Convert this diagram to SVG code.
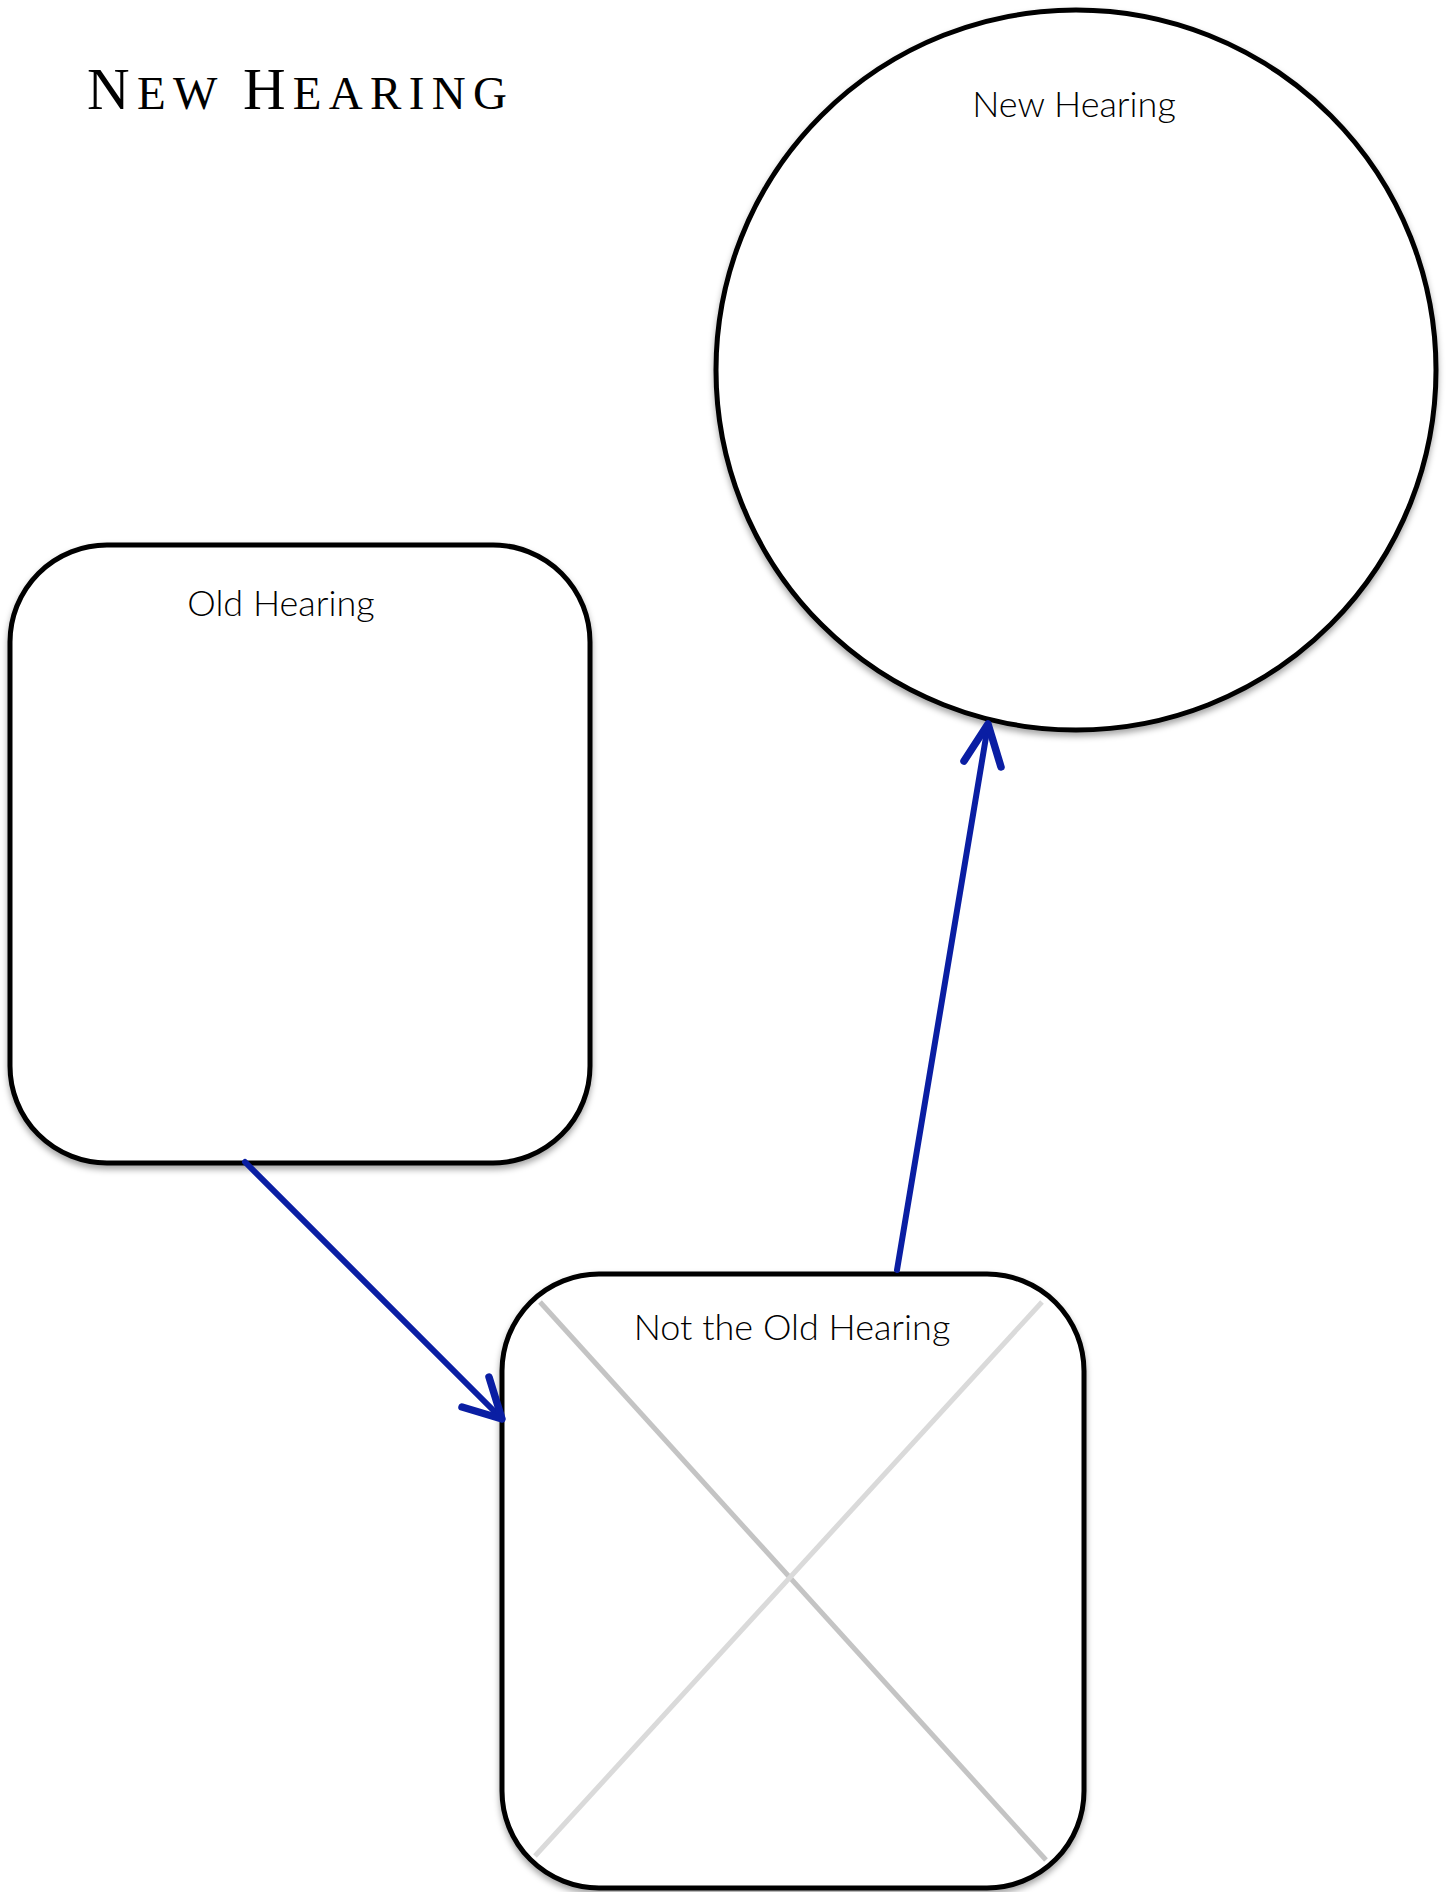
<svg xmlns="http://www.w3.org/2000/svg" width="1449" height="1892" viewBox="0 0 1449 1892">
<style>
.shape{fill:#fff;stroke:#000;stroke-width:5;filter:url(#sh)}
.lbl{font-family:Lato,"Open Sans","Liberation Sans",sans-serif;font-weight:300;font-size:36px;fill:#000;text-anchor:middle}
.conn{stroke:#0a1ea3;stroke-width:6;fill:none;stroke-linecap:round;stroke-linejoin:round}
.head{stroke-width:7.5}
.ttl{font-family:"Liberation Serif","DejaVu Serif",serif;fill:#000}
</style>
<defs>
<filter id="sh" x="-10%" y="-10%" width="120%" height="120%">
<feDropShadow dx="0" dy="4" stdDeviation="3" flood-color="#000" flood-opacity="0.35"/>
</filter>
</defs>
<rect width="1449" height="1892" fill="#fff"/>
<g id="title">
<text class="ttl" x="87" y="109" textLength="420" lengthAdjust="spacing"><tspan font-size="59">N</tspan><tspan font-size="47">EW </tspan><tspan font-size="59">H</tspan><tspan font-size="47">EARING</tspan></text>
</g>
<g id="new-hearing">
<circle class="shape" cx="1076" cy="370" r="360"/>
<text class="lbl" x="1074" y="117">New Hearing</text>
</g>
<g id="old-hearing">
<rect class="shape" x="10" y="545" width="580" height="618" rx="97" ry="97"/>
<text class="lbl" x="281" y="616">Old Hearing</text>
</g>
<g id="not-old-hearing">
<rect class="shape" x="502" y="1274" width="582" height="614" rx="97" ry="97"/>
<line x1="540" y1="1302" x2="1046" y2="1860" stroke="#c4c4c4" stroke-width="5"/>
<line x1="1042" y1="1302" x2="535" y2="1856" stroke="#dadada" stroke-width="5"/>
<text class="lbl" x="792" y="1340">Not the Old Hearing</text>
</g>
<g id="connectors">
<path class="conn" d="M245,1162 L502,1419"/>
<path class="conn head" d="M462,1407 L502,1419 L489,1377"/>
<path class="conn" d="M897,1270 L988,725"/>
<path class="conn head" d="M964,761 L988,724 L1001,767"/>
</g>
</svg>
